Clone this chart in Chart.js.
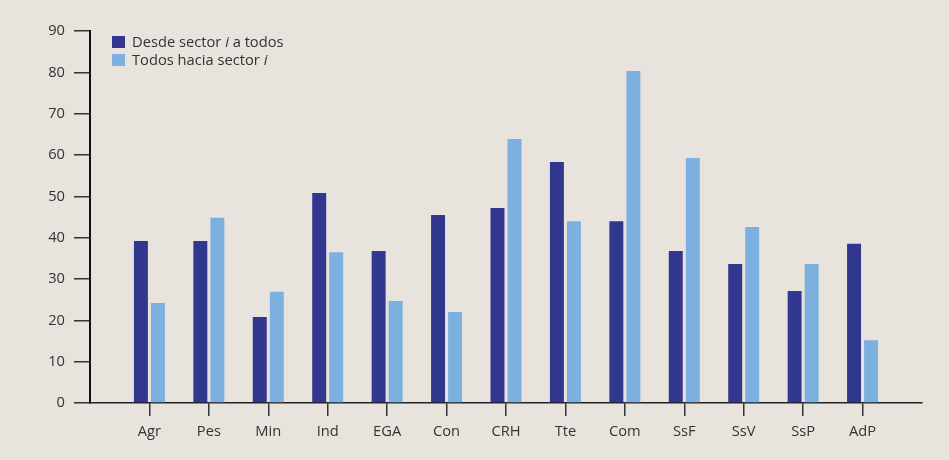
<!DOCTYPE html>
<html>
<head>
<meta charset="utf-8">
<script src="https://cdn.jsdelivr.net/npm/chart.js@4/dist/chart.umd.min.js"></script>
<style>
    html, body { margin: 0; padding: 0; background: #e9e3dd; }
    #wrap { position: relative; width: 949px; height: 460px; }
    #legend { position: absolute; left: 112px; top: 33px; font-family: "Open Sans", sans-serif; font-size: 14.7px; color: #333; }
    .row { height: 18px; line-height: 16px; white-space: nowrap; }
    .box { display: inline-block; width: 13px; height: 12px; vertical-align: -1px; margin-right: 7px; }
</style>
</head>
<body>
<div id="wrap">
    <canvas id="chart" width="949" height="460"></canvas>
    <div id="legend">
        <div class="row"><span class="box" style="background:#31368e"></span>Desde sector <i>i</i> a todos</div>
        <div class="row"><span class="box" style="background:#7cb0de"></span>Todos hacia sector <i>i</i></div>
    </div>
</div>
<script>
// sectors, with an empty slot at each end of the axis
const sectors = ['', 'Agr', 'Pes', 'Min', 'Ind', 'EGA', 'Con', 'CRH', 'Tte', 'Com', 'SsF', 'SsV', 'SsP', 'AdP', ''];
const desdeSector = [null, 39.2, 39.2, 20.8, 50.8, 36.8, 45.5, 47.2, 58.3, 44.0, 36.8, 33.6, 27.1, 38.5, null];
const haciaSector = [null, 24.2, 44.8, 26.9, 36.5, 24.7, 22.0, 63.9, 44.0, 80.3, 59.3, 42.6, 33.6, 15.2, null];
const yTicks = [0, 10, 20, 30, 40, 50, 60, 70, 80, 90];

const font = { family: '"Open Sans", sans-serif', size: 14.7 };

const ctx = document.getElementById('chart').getContext('2d');
new Chart(ctx, {
    type: 'bar',
    data: {
        labels: sectors,
        datasets: [
            { label: 'Desde sector i a todos', data: desdeSector, backgroundColor: '#31368e' },
            { label: 'Todos hacia sector i', data: haciaSector, backgroundColor: '#7cb0de' }
        ]
    },
    options: {
        responsive: false,
        animation: false,
        categoryPercentage: 0.573,
        barPercentage: 0.82,
        layout: { padding: { top: 31, right: 27, left: 0, bottom: 0 } },
        plugins: { legend: { display: false }, tooltip: { enabled: false } },
        scales: {
            x: {
                offset: false,
                afterFit: s => { s.height = 57; },
                grid: {
                    offset: false,
                    drawOnChartArea: false,
                    tickLength: 13,
                    lineWidth: 1.5,
                    color: c => (sectors[c.index] ? '#333' : 'rgba(0,0,0,0)')
                },
                border: { display: true, color: '#222', width: 1.5 },
                ticks: { color: '#333', font: font, padding: 7, maxRotation: 0, autoSkip: false }
            },
            y: {
                min: 0,
                max: 90,
                afterFit: s => { s.width = 90; },
                afterBuildTicks: s => { s.ticks = yTicks.map(v => ({ value: v })); },
                grid: { drawOnChartArea: false, tickLength: 16, lineWidth: 1.5, color: '#333' },
                border: { display: true, color: '#111', width: 2 },
                ticks: { color: '#333', font: font, padding: 9 }
            }
        }
    }
});
</script>
</body>
</html>
